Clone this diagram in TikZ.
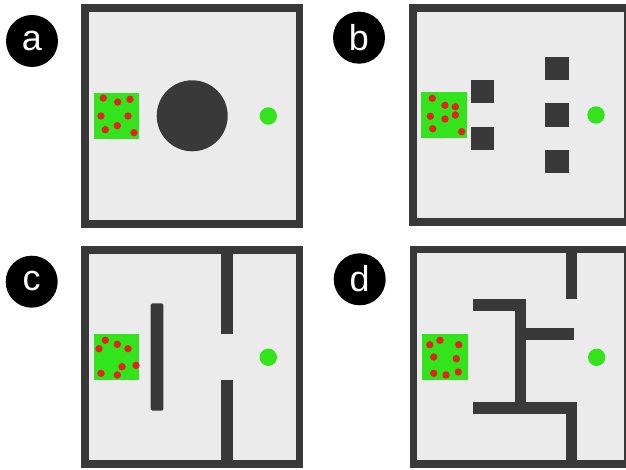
\documentclass[tikz,border=0pt]{standalone}
\usepackage{fontspec}
\setmainfont{Liberation Sans}
\definecolor{wallc}{HTML}{393939}
\definecolor{floorc}{HTML}{EBEBEB}
\definecolor{goalc}{HTML}{33E41C}
\definecolor{dotc}{HTML}{E52222}
\begin{document}
\begin{tikzpicture}[x=1pt,y=-1pt,
  wall/.style={fill=wallc},
  arena/.style={fill=wallc},
  floorbox/.style={fill=floorc},
  startbox/.style={fill=goalc},
  agent/.style={fill=dotc},
  goal/.style={fill=goalc},
  tag/.style={circle,fill=black,minimum size=52pt,inner sep=0pt,text=white,font=\fontsize{36}{36}\selectfont}]
\useasboundingbox (0,0) rectangle (626,470);
\begin{scope}
\clip (0,0) rectangle (626,470);
% ---------- panel a ----------
\node[tag] (la) at (32,41) {\raisebox{1pt}{a}};
\fill[arena] (81,4) rectangle (303,228);
\fill[floorbox] (89,12) rectangle (296,220);
\fill[startbox] (94,93) rectangle (139,139);
\foreach \p in {(103.3,98),(117.7,102),(130,99.3),(101,116),(128,116),(105.3,129.7),(117.3,125.7),(134,132.7)}
  \fill[agent] \p circle (3.7);
\fill[wall] (192.2,115.8) circle (35.5);
\fill[goal] (268.3,116) circle (8.7);
% ---------- panel b ----------
\node[tag] (lb) at (359,37.7) {\raisebox{1pt}{b}};
\fill[arena] (409,4) rectangle (632,226);
\fill[floorbox] (416.5,11.7) rectangle (623.7,218.3);
\fill[startbox] (421,92) rectangle (466.7,137.7);
\foreach \p in {(432.3,98.3),(445,105.3),(455.3,106.7),(430.3,116.3),(445,119),(455.3,115),(432.7,128.7),(461.7,131.7)}
  \fill[agent] \p circle (3.7);
\fill[wall] (470.7,80) rectangle (494.3,103.3);
\fill[wall] (470.7,126.7) rectangle (494.3,150);
\fill[wall] (545.3,56.7) rectangle (569,80);
\fill[wall] (545.3,103.3) rectangle (569,126.7);
\fill[wall] (545.3,149.7) rectangle (569,173.3);
\fill[goal] (596,115) circle (8.7);
% ---------- panel c ----------
\node[tag] (lc) at (31.7,281.7) {\raisebox{1pt}{c}};
\fill[arena] (81,245.7) rectangle (303,467.7);
\fill[floorbox] (89,254) rectangle (296,460);
\fill[startbox] (93.7,334.3) rectangle (139.3,380);
\foreach \p in {(105.3,340.3),(117.3,344.3),(128,348.7),(99,348.7),(122,366.7),(136,365.3),(101,373.3),(117.3,375)}
  \fill[agent] \p circle (3.7);
\fill[wall,rounded corners=1.5pt] (150.7,303.3) rectangle (163.3,410.7);
\fill[wall] (221,254) rectangle (233.3,334);
\fill[wall] (221,380.3) rectangle (233.3,460);
\fill[goal] (268.3,357.3) circle (8.7);
% ---------- panel d ----------
\node[tag] (ld) at (359.7,279.3) {\raisebox{1pt}{d}};
\fill[arena] (409.7,245.7) rectangle (632,467.5);
\fill[floorbox] (417.3,253.5) rectangle (623.7,460);
\fill[startbox] (422.3,334.3) rectangle (468,380);
\foreach \p in {(429.7,344.7),(440,340.3),(458.7,344.7),(433.7,357),(456.3,358.7),(433.7,373.3),(446,375),(458.3,372)}
  \fill[agent] \p circle (3.7);
\fill[wall] (565.7,253.5) rectangle (577.3,299.3);
\fill[wall] (473.3,299.3) rectangle (526.3,311);
\fill[wall] (515,299.3) rectangle (526.3,414);
\fill[wall] (526.3,328.3) rectangle (574,339.7);
\fill[wall] (473.3,402) rectangle (577.3,414);
\fill[wall] (565.7,402) rectangle (577.3,460);
\fill[goal] (596.7,357.3) circle (8.7);
\end{scope}
\end{tikzpicture}
\end{document}
